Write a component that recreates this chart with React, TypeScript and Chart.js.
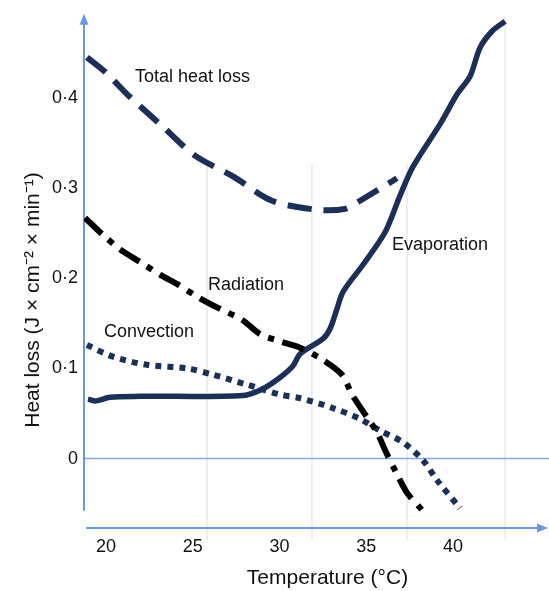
import { useEffect, useRef } from 'react';
import { Chart, registerables } from 'chart.js';

Chart.register(...registerables);

// ---------- data ----------
const xTickValues = [20, 25, 30, 35, 40];
const yTickValues = [0, 0.1, 0.2, 0.3, 0.4];
const xMin = 18.73;
const xMax = 45.3;
const yMin = -0.077;
const yMax = 0.49;

// faint vertical guide lines (temperature, top value)
const gridTemps = [25.82, 31.87, 37.35, 43.0];
const gridTops = [0.327, 0.327, 0.327, 0.49];
const yAxisBottom = -0.058;

const totalT = [18.9, 19.94, 21.38, 23.23, 25.13, 27.32, 29.57, 32.16, 33.78, 34.64, 36.77];
const totalV = [0.445, 0.429, 0.401, 0.369, 0.336, 0.313, 0.286, 0.276, 0.277, 0.286, 0.311];

const evapT = [18.96, 19.42, 20.23, 21.96, 27.9, 28.99, 30.03, 30.78, 31.18, 32.51, 32.91, 33.31, 33.66, 34.81, 36.08, 36.95, 37.7, 39.25, 40.23, 40.98, 41.56, 42.25, 43.0];
const evapV = [0.066, 0.064, 0.068, 0.069, 0.07, 0.077, 0.09, 0.103, 0.116, 0.133, 0.144, 0.166, 0.185, 0.215, 0.251, 0.292, 0.324, 0.371, 0.404, 0.424, 0.456, 0.474, 0.485];

const radT = [18.79, 19.83, 20.81, 21.96, 23.11, 24.15, 25.3, 26.57, 27.84, 28.88, 30.03, 31.18, 32.45, 33.6, 34.18, 34.93, 35.62, 36.14, 36.71, 37.35, 38.21];
const radV = [0.267, 0.248, 0.232, 0.218, 0.204, 0.193, 0.179, 0.166, 0.154, 0.138, 0.13, 0.123, 0.11, 0.093, 0.071, 0.049, 0.029, 0.007, -0.015, -0.038, -0.057];

const convT = [18.9, 20.4, 22.36, 24.67, 26.17, 28.13, 30.03, 31.18, 33.08, 34.64, 35.79, 37.12, 38.27, 39.08, 40.4];
const convV = [0.126, 0.113, 0.104, 0.1, 0.093, 0.082, 0.071, 0.067, 0.056, 0.044, 0.031, 0.018, -0.002, -0.024, -0.055];

const seriesLabels = ['Total heat loss', 'Radiation', 'Convection', 'Evaporation'];
const labelT = [21.67, 25.88, 19.88, 36.48];
const labelV = [0.423, 0.193, 0.14, 0.237];

const xTitle = 'Temperature (°C)';
const yTitle = 'Heat loss (J × cm⁻² × min⁻¹)';

// ---------- styles ----------
const NAVY = '#1b2f57';
const AXIS_BLUE = '#6a97df';
const FONT = "'Liberation Sans', Arial, sans-serif";

const pts = (xs: number[], ys: number[]) => xs.map((x, i) => ({ x, y: ys[i] }));

const decorPlugin = {
  id: 'decor',
  beforeDatasetsDraw(chart: any) {
    const { ctx, chartArea: ca, scales } = chart;
    const x = scales.x;
    const y = scales.y;
    ctx.save();
    // faint guide lines
    ctx.strokeStyle = '#e8e8e8';
    ctx.lineWidth = 1.5;
    gridTemps.forEach((t, i) => {
      const px = x.getPixelForValue(t);
      ctx.beginPath();
      ctx.moveTo(px, y.getPixelForValue(gridTops[i]));
      ctx.lineTo(px, ca.bottom + 12);
      ctx.stroke();
    });
    // zero line
    const y0 = y.getPixelForValue(0);
    ctx.strokeStyle = '#86a8e6';
    ctx.lineWidth = 1.5;
    ctx.beginPath();
    ctx.moveTo(ca.left, y0);
    ctx.lineTo(chart.width, y0);
    ctx.stroke();
    // y axis with arrow
    ctx.strokeStyle = AXIS_BLUE;
    ctx.fillStyle = AXIS_BLUE;
    ctx.lineWidth = 2;
    ctx.beginPath();
    ctx.moveTo(ca.left, y.getPixelForValue(yAxisBottom));
    ctx.lineTo(ca.left, ca.top + 6);
    ctx.stroke();
    ctx.beginPath();
    ctx.moveTo(ca.left, ca.top - 3);
    ctx.lineTo(ca.left - 4.5, ca.top + 8);
    ctx.lineTo(ca.left + 4.5, ca.top + 8);
    ctx.closePath();
    ctx.fill();
    // x axis with arrow
    ctx.beginPath();
    ctx.moveTo(ca.left + 2, ca.bottom);
    ctx.lineTo(chart.width - 8, ca.bottom);
    ctx.stroke();
    ctx.beginPath();
    ctx.moveTo(chart.width - 1, ca.bottom);
    ctx.lineTo(chart.width - 12, ca.bottom - 4.5);
    ctx.lineTo(chart.width - 12, ca.bottom + 4.5);
    ctx.closePath();
    ctx.fill();
    ctx.restore();
  },
  afterDatasetsDraw(chart: any) {
    const { ctx, chartArea: ca, scales } = chart;
    const x = scales.x;
    const y = scales.y;
    ctx.save();
    ctx.fillStyle = '#111';
    ctx.font = `18px ${FONT}`;
    ctx.textAlign = 'left';
    ctx.textBaseline = 'middle';
    seriesLabels.forEach((s, i) => {
      ctx.fillText(s, x.getPixelForValue(labelT[i]), y.getPixelForValue(labelV[i]));
    });
    // axis titles
    ctx.font = `21px ${FONT}`;
    ctx.textAlign = 'center';
    ctx.fillText(xTitle, (ca.left + ca.right) / 2 + 13, ca.bottom + 50);
    ctx.translate(33, 300);
    ctx.rotate(-Math.PI / 2);
    ctx.fillText(yTitle, 0, 0);
    ctx.restore();
  },
};

export default function App() {
  const ref = useRef<HTMLCanvasElement>(null);
  useEffect(() => {
    document.body.style.margin = '0';
    const canvas = ref.current;
    if (!canvas) return;
    const chart = new Chart(canvas, {
      type: 'scatter',
      data: {
        datasets: [
          {
            label: seriesLabels[0],
            data: pts(totalT, totalV),
            showLine: true,
            borderColor: NAVY,
            borderWidth: 6,
            borderDash: [24, 12],
            pointRadius: 0,
            tension: 0.3,
          },
          {
            label: seriesLabels[1],
            data: pts(radT, radV),
            showLine: true,
            borderColor: '#000000',
            borderWidth: 6,
            borderDash: [23, 9, 6, 9],
            pointRadius: 0,
            tension: 0.3,
          },
          {
            label: seriesLabels[2],
            data: pts(convT, convV),
            showLine: true,
            borderColor: NAVY,
            borderWidth: 6,
            borderDash: [6, 6],
            pointRadius: 0,
            tension: 0.3,
          },
          {
            label: seriesLabels[3],
            data: pts(evapT, evapV),
            showLine: true,
            borderColor: NAVY,
            borderWidth: 5.5,
            pointRadius: 0,
            tension: 0.3,
          },
        ],
      },
      options: {
        responsive: false,
        animation: false,
        devicePixelRatio: 1,
        layout: { padding: { top: 12, right: 4, left: 0, bottom: 0 } },
        plugins: { legend: { display: false }, tooltip: { enabled: false } },
        scales: {
          x: {
            type: 'linear',
            min: xMin,
            max: xMax,
            afterBuildTicks: (s: any) => {
              s.ticks = xTickValues.map((v) => ({ value: v }));
            },
            afterFit: (s: any) => {
              s.height = 63;
            },
            grid: { display: false, drawTicks: false },
            border: { display: false },
            ticks: {
              padding: 8,
              color: '#111',
              font: { family: FONT, size: 18 },
              maxRotation: 0,
              callback: (v: any) => String(v),
            },
          },
          y: {
            type: 'linear',
            min: yMin,
            max: yMax,
            afterBuildTicks: (s: any) => {
              s.ticks = yTickValues.map((v) => ({ value: v }));
            },
            afterFit: (s: any) => {
              s.width = 84;
            },
            grid: { display: false, drawTicks: false },
            border: { display: false },
            ticks: {
              padding: 6,
              color: '#111',
              font: { family: FONT, size: 18 },
              callback: (v: any) => (v === 0 ? '0' : Number(v).toFixed(1).replace('.', '·')),
            },
          },
        },
      },
      plugins: [decorPlugin],
    });
    return () => chart.destroy();
  }, []);
  return (
    <div style={{ width: 549, height: 591, background: '#fff' }}>
      <canvas ref={ref} width={549} height={591} style={{ display: 'block' }} />
    </div>
  );
}
